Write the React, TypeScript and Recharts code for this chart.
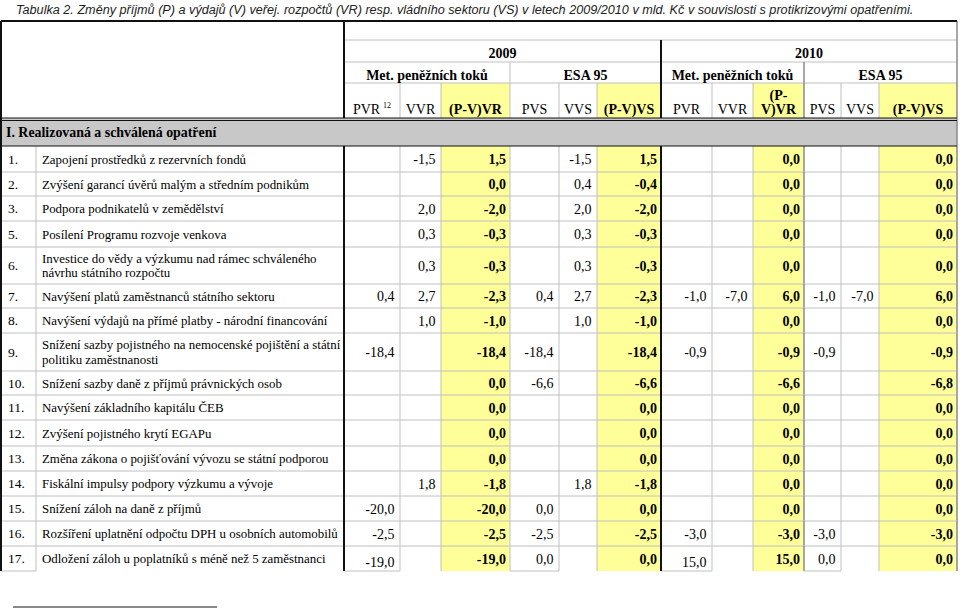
import React from 'react';
import { ScatterChart, Scatter, XAxis, YAxis } from 'recharts';

const title = 'Tabulka 2. Změny příjmů (P) a výdajů (V) veřej. rozpočtů (VR) resp. vládního sektoru (VS) v letech 2009/2010 v mld. Kč v souvislosti s protikrizovými opatřeními.';
const sectionTitle = 'I. Realizovaná a schválená opatření';
const years = ['2009', '2010'];
const methods = ['Met. peněžních toků', 'ESA 95'];
const columnLabels = ['PVR', 'VVR', '(P-V)VR', 'PVS', 'VVS', '(P-V)VS'];
const footnoteRef = '12';

const rowNumbers = ['1.', '2.', '3.', '5.', '6.', '7.', '8.', '9.', '10.', '11.', '12.', '13.', '14.', '15.', '16.', '17.'];
const rowLabels = [
  'Zapojení prostředků z rezervních fondů',
  'Zvýšení garancí úvěrů malým a středním podnikům',
  'Podpora podnikatelů v zemědělství',
  'Posílení Programu rozvoje venkova',
  'Investice do vědy a výzkumu nad rámec schváleného\nnávrhu státního rozpočtu',
  'Navýšení platů zaměstnanců státního sektoru',
  'Navýšení výdajů na přímé platby - národní financování',
  'Snížení sazby pojistného na nemocenské pojištění a státní\npolitiku zaměstnanosti',
  'Snížení sazby daně z příjmů právnických osob',
  'Navýšení základního kapitálu ČEB',
  'Zvýšení pojistného krytí EGAPu',
  'Změna zákona o pojišťování vývozu se státní podporou',
  'Fiskální impulsy podpory výzkumu a vývoje',
  'Snížení záloh na daně z příjmů',
  'Rozšíření uplatnění odpočtu DPH u osobních automobilů',
  'Odložení záloh u poplatníků s méně než 5 zaměstnanci',
];

const _ = null;
// 2009
const pvr2009 = [_, _, _, _, _, 0.4, _, -18.4, _, _, _, _, _, -20.0, -2.5, -19.0];
const vvr2009 = [-1.5, _, 2.0, 0.3, 0.3, 2.7, 1.0, _, _, _, _, _, 1.8, _, _, _];
const pvVr2009 = [1.5, 0.0, -2.0, -0.3, -0.3, -2.3, -1.0, -18.4, 0.0, 0.0, 0.0, 0.0, -1.8, -20.0, -2.5, -19.0];
const pvs2009 = [_, _, _, _, _, 0.4, _, -18.4, -6.6, _, _, _, _, 0.0, -2.5, 0.0];
const vvs2009 = [-1.5, 0.4, 2.0, 0.3, 0.3, 2.7, 1.0, _, _, _, _, _, 1.8, _, _, _];
const pvVs2009 = [1.5, -0.4, -2.0, -0.3, -0.3, -2.3, -1.0, -18.4, -6.6, 0.0, 0.0, 0.0, -1.8, 0.0, -2.5, 0.0];
// 2010
const pvr2010 = [_, _, _, _, _, -1.0, _, -0.9, _, _, _, _, _, _, -3.0, 15.0];
const vvr2010 = [_, _, _, _, _, -7.0, _, _, _, _, _, _, _, _, _, _];
const pvVr2010 = [0.0, 0.0, 0.0, 0.0, 0.0, 6.0, 0.0, -0.9, -6.6, 0.0, 0.0, 0.0, 0.0, 0.0, -3.0, 15.0];
const pvs2010 = [_, _, _, _, _, -1.0, _, -0.9, _, _, _, _, _, _, -3.0, 0.0];
const vvs2010 = [_, _, _, _, _, -7.0, _, _, _, _, _, _, _, _, _, _];
const pvVs2010 = [0.0, 0.0, 0.0, 0.0, 0.0, 6.0, 0.0, -0.9, -6.8, 0.0, 0.0, 0.0, 0.0, 0.0, -3.0, 0.0];

const valueColumns = [pvr2009, vvr2009, pvVr2009, pvs2009, vvs2009, pvVs2009, pvr2010, vvr2010, pvVr2010, pvs2010, vvs2010, pvVs2010];

// layout
const W = 960;
const H = 609;
const COL_X = [1, 36, 344, 400, 441, 510, 559, 597, 661, 712, 753, 804, 841, 879, 957];
const HEAD_Y = [21, 40, 62, 83, 118];
const SECTION_Y = [118, 146];
const ROW_H = [26, 24, 25, 26, 37, 24, 25, 38, 24, 25, 26, 25, 25, 25, 25, 25];

const YELLOW = '#ffff99';
const SECTION_FILL = '#c8c8c8';
const LIGHT = '#c0c0c0';
const MID = '#8a8a8a';
const DARK = '#111111';
const SERIF = '"Liberation Serif", "Times New Roman", serif';
const SANS = '"Liberation Sans", Arial, sans-serif';

type Edge = { side: 't' | 'b' | 'l' | 'r'; color: string; width: number; offset?: number };
type Cell = {
  px: number; py: number; w: number; h: number;
  fill?: string; lines?: string[]; sup?: string;
  bold?: boolean; italic?: boolean; size?: number; family?: string; color?: string;
  anchor?: 'start' | 'middle' | 'end'; pad?: number; valign?: 'bottom' | 'middle'; shift?: number;
  edges: Edge[];
};

const cell = (x1: number, x2: number, y1: number, y2: number, opts: Partial<Cell>): Cell => ({
  px: (x1 + x2) / 2, py: (y1 + y2) / 2, w: x2 - x1, h: y2 - y1, edges: [], ...opts,
});

const fmt = (v: number | null) => (v === null ? '' : v.toFixed(1).replace('.', ','));
const isDiff = (i: number) => i % 6 === 2 || i % 6 === 5;
const rightEdge = (xi: number): Edge => {
  const x = COL_X[xi];
  if (x === 344 || x === 661) return { side: 'r', color: DARK, width: 2 };
  if (x === 957 || x === 804) return { side: 'r', color: MID, width: 1.5 };
  return { side: 'r', color: LIGHT, width: 1 };
};

function buildCells(): Cell[] {
  const cells: Cell[] = [];
  const [x0] = COL_X;
  const xEnd = COL_X[COL_X.length - 1];

  cells.push(cell(0, W, 0, 20, { lines: [title], italic: true, family: SANS, size: 12.65, anchor: 'start', pad: 16, color: '#222', shift: 4 }));

  // header
  cells.push(cell(x0, COL_X[2], HEAD_Y[0], HEAD_Y[4], {
    edges: [{ side: 't', color: DARK, width: 2 }, { side: 'l', color: DARK, width: 2 }, rightEdge(2)],
  }));
  cells.push(cell(COL_X[2], xEnd, HEAD_Y[0], HEAD_Y[1], {
    edges: [{ side: 't', color: DARK, width: 2 }, { side: 'b', color: LIGHT, width: 1 }, rightEdge(14)],
  }));
  years.forEach((yr, k) => {
    const a = 2 + k * 6;
    cells.push(cell(COL_X[a], COL_X[a + 6], HEAD_Y[1], HEAD_Y[2], {
      lines: [yr], bold: true, valign: 'bottom', pad: 4,
      edges: [{ side: 'b', color: LIGHT, width: 1 }, rightEdge(a + 6)],
    }));
    methods.forEach((m, j) => {
      const b = a + j * 3;
      cells.push(cell(COL_X[b], COL_X[b + 3], HEAD_Y[2], HEAD_Y[3], {
        lines: [m], bold: true, valign: 'bottom', pad: 3.5,
        edges: [{ side: 'b', color: LIGHT, width: 1 }, rightEdge(b + 3)],
      }));
    });
    columnLabels.forEach((lab, j) => {
      const c = a + j;
      const diff = j === 2 || j === 5;
      const lines = k === 1 && j === 2 ? ['(P-', 'V)VR'] : [lab];
      cells.push(cell(COL_X[c], COL_X[c + 1], HEAD_Y[3], HEAD_Y[4], {
        lines, bold: diff, fill: diff ? YELLOW : undefined, valign: 'bottom', pad: 4,
        sup: k === 0 && j === 0 ? footnoteRef : undefined,
        edges: [rightEdge(c + 1)],
      }));
    });
  });

  // section row
  cells.push(cell(x0, xEnd, SECTION_Y[0], SECTION_Y[1], {
    fill: SECTION_FILL, lines: [sectionTitle], bold: true, anchor: 'start', pad: 5, size: 13.9, shift: 5,
    edges: [
      { side: 't', color: DARK, width: 1, offset: 0 },
      { side: 't', color: DARK, width: 1, offset: 2.5 },
      { side: 'b', color: DARK, width: 1 },
      { side: 'l', color: DARK, width: 2 },
      rightEdge(14),
    ],
  }));

  // data rows
  let y = SECTION_Y[1];
  rowLabels.forEach((label, r) => {
    const y2 = y + ROW_H[r];
    const last = r === rowLabels.length - 1;
    const bottom: Edge[] = last ? [] : [{ side: 'b', color: LIGHT, width: 1 }];
    cells.push(cell(COL_X[0], COL_X[1], y, y2, {
      lines: [rowNumbers[r]], anchor: 'start', pad: 7, size: 13.5, shift: 4.5,
      edges: [{ side: 'l', color: DARK, width: 2 }, rightEdge(1), { side: 'b', color: LIGHT, width: 1 }],
    }));
    cells.push(cell(COL_X[1], COL_X[2], y, y2, {
      lines: label.split('\n'), anchor: 'start', pad: 6, size: 12.9, shift: 4.5,
      edges: [rightEdge(2), ...bottom],
    }));
    valueColumns.forEach((col, i) => {
      const diff = isDiff(i);
      const lastEdge: Edge[] = last && (i % 3 !== 1) && !diff ? [{ side: 'b', color: LIGHT, width: 1 }] : [];
      cells.push(cell(COL_X[2 + i], COL_X[3 + i], y, y2, {
        lines: [fmt(col[r])], bold: diff, fill: diff ? YELLOW : undefined,
        anchor: 'end', pad: diff ? 4 : 5.5, size: 14, shift: last && i % 6 === 0 ? 8.5 : 5,
        edges: [rightEdge(3 + i), ...bottom, ...lastEdge],
      }));
    });
    y = y2;
  });

  // footnote rule
  cells.push(cell(13, 217, 607, 609, { edges: [{ side: 't', color: DARK, width: 1 }] }));
  return cells;
}

const cells = buildCells();

const FillShape = (props: any) => {
  const { cx, cy, payload: c } = props;
  if (!c.fill) return <g />;
  return <rect x={cx - c.w / 2} y={cy - c.h / 2} width={c.w} height={c.h} fill={c.fill} />;
};

const makeEdgeShape = (dark: boolean) => (props: any) => {
  const { cx, cy, payload: c } = props;
  const x1 = cx - c.w / 2;
  const x2 = cx + c.w / 2;
  const y1 = cy - c.h / 2;
  const y2 = cy + c.h / 2;
  const list = (c.edges as Edge[]).filter((e) => (e.color === DARK) === dark);
  return (
    <g>
      {list.map((e, i) => {
        const o = e.offset ?? 0;
        if (e.side === 't') return <line key={i} x1={x1} x2={x2} y1={y1 + o} y2={y1 + o} stroke={e.color} strokeWidth={e.width} />;
        if (e.side === 'b') return <line key={i} x1={x1} x2={x2} y1={y2} y2={y2} stroke={e.color} strokeWidth={e.width} />;
        if (e.side === 'l') return <line key={i} x1={x1} x2={x1} y1={y1} y2={y2} stroke={e.color} strokeWidth={e.width} />;
        return <line key={i} x1={x2} x2={x2} y1={y1} y2={y2} stroke={e.color} strokeWidth={e.width} />;
      })}
    </g>
  );
};

const TextShape = (props: any) => {
  const { cx, cy, payload: c } = props;
  const lines: string[] = c.lines || [];
  if (!lines.length || !lines.join('')) return <g />;
  const size = c.size ?? 14;
  const anchor = c.anchor ?? 'middle';
  const pad = c.pad ?? 4;
  const x = anchor === 'start' ? cx - c.w / 2 + pad : anchor === 'end' ? cx + c.w / 2 - pad : cx;
  const lh = 14.5;
  const n = lines.length;
  const base = (i: number) =>
    c.valign === 'bottom'
      ? cy + c.h / 2 - pad - (n - 1 - i) * lh
      : cy + (c.shift ?? 4.5) + (i - (n - 1) / 2) * lh;
  return (
    <g>
      {lines.map((t, i) => (
        <text
          key={i}
          x={x}
          y={base(i)}
          textAnchor={anchor}
          fontFamily={c.family ?? SERIF}
          fontSize={size}
          fontWeight={c.bold ? 'bold' : 'normal'}
          fontStyle={c.italic ? 'italic' : 'normal'}
          fill={c.color ?? '#000'}
        >
          {t}
          {c.sup && i === n - 1 ? (
            <tspan fontSize={8} dy={-6} dx={3}>{c.sup}</tspan>
          ) : null}
        </text>
      ))}
    </g>
  );
};

export default function App() {
  return (
    <div style={{ position: 'absolute', left: 0, top: 0, width: W, height: H, background: '#fff' }}>
      <ScatterChart width={W} height={H} margin={{ top: 0, right: 0, bottom: 0, left: 0 }}>
        <XAxis type="number" dataKey="px" domain={[0, W]} hide allowDataOverflow />
        <YAxis type="number" dataKey="py" domain={[0, H]} reversed hide allowDataOverflow />
        <Scatter data={cells} shape={FillShape} isAnimationActive={false} />
        <Scatter data={cells} shape={makeEdgeShape(false)} isAnimationActive={false} />
        <Scatter data={cells} shape={makeEdgeShape(true)} isAnimationActive={false} />
        <Scatter data={cells} shape={TextShape} isAnimationActive={false} />
      </ScatterChart>
    </div>
  );
}
